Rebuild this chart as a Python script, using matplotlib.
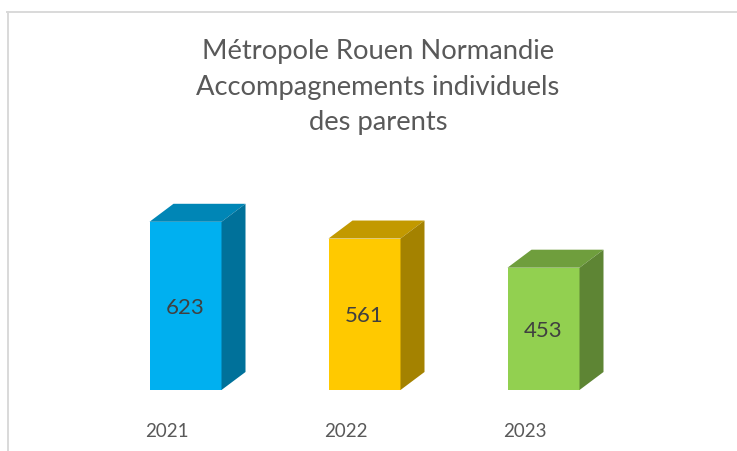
#!/usr/bin/env python3
import matplotlib
matplotlib.use('Agg')
import matplotlib.pyplot as plt
from matplotlib.patches import Polygon
from matplotlib.lines import Line2D

W, H = 737, 452

YEARS = ["2021", "2022", "2023"]
VALUES = [623, 561, 453]
FRONT = ["#00b0f0", "#ffc900", "#92d050"]
TOP = ["#0086b6", "#c29900", "#6f9e3d"]
SIDE = ["#00719a", "#a48200", "#5e8534"]
TITLE = "Métropole Rouen Normandie\nAccompagnements individuels\ndes parents"

plt.rcParams['font.family'] = ['Lato', 'DejaVu Sans']

fig = plt.figure(figsize=(W / 100, H / 100), dpi=100, facecolor='white')

# axes span the whole figure, scaled so one value unit = 0.27 px, one category = 179 px
px_x, px_y = 179.0, 0.27
x0, y0 = 185.5, 391.0
ax = fig.add_axes([0, 0, 1, 1])
ax.set_xlim(-x0 / px_x, (W - x0) / px_x)
ax.set_ylim(-(H - y0) / px_y, y0 / px_y)
ax.axis('off')

bar_w = 72 / px_x
dx = 24 / px_x
dy = 18 / px_y

xs = list(range(len(VALUES)))
ax.bar(xs, VALUES, width=bar_w, color=FRONT, linewidth=0, zorder=2)

for x, v, c_top, c_side in zip(xs, VALUES, TOP, SIDE):
    l, r = x - bar_w / 2, x + bar_w / 2
    ax.add_patch(Polygon([(l, v), (r, v), (r + dx, v + dy), (l + dx, v + dy)],
                         facecolor=c_top, edgecolor='none', zorder=2))
    ax.add_patch(Polygon([(r, 0), (r + dx, dy), (r + dx, v + dy), (r, v)],
                         facecolor=c_side, edgecolor='none', zorder=2))
    ax.text(x, v * 0.5 - 3, str(v), ha='center', va='center',
            fontsize=16, color='#404040', zorder=3)

for x, lab in zip(xs, YEARS):
    ax.text(x - 18.5 / px_x, -(432 - y0) / px_y, lab, ha='center', va='center',
            fontsize=13.5, color='#595959')

fig.text(378 / W, 1 - 87 / H, TITLE, ha='center', va='center', fontsize=19.7,
         color='#595959', linespacing=1.52)

# chart frame, only top and left edges are visible
fig.add_artist(Line2D([7 / W, 1], [1 - 13 / H, 1 - 13 / H], color='#d9d9d9', lw=1.4))
fig.add_artist(Line2D([8 / W, 8 / W], [1 - 13 / H, 0], color='#d9d9d9', lw=1.4))

fig.savefig('out.png', dpi=100, facecolor='white')
plt.close(fig)
